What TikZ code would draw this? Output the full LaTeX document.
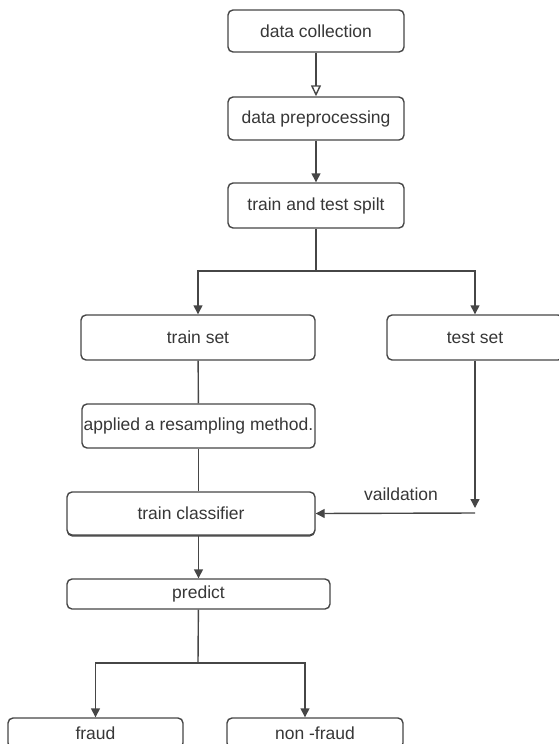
\documentclass[tikz,border=0pt]{standalone}
\usepackage{fontspec}
\setmainfont{Liberation Sans}
\usetikzlibrary{arrows.meta,shadows}
\definecolor{boxline}{RGB}{70,70,70}
\definecolor{boxtext}{RGB}{55,55,55}
\begin{document}
\begin{tikzpicture}[x=1pt,y=-1pt,
            stage/.style={draw=boxline,fill=white,line width=1.4pt,rounded corners=5pt,text=boxtext,
                font=\fontsize{17.5}{19}\selectfont,inner sep=0pt},
            flow/.style={draw=boxline,line width=1.4pt,-{Triangle[length=9pt,width=9pt]}},
            openflow/.style={draw=boxline,line width=1.4pt,-{Triangle[open,length=11pt,width=10pt,fill=white]}},
            link/.style={draw=boxline,line width=1.4pt}]
            \useasboundingbox (0,0) rectangle (558,744);
            % top of the flow
            \node[stage,minimum width=176pt,minimum height=42pt] (coll) at (316,31) {data collection};
            \node[stage,minimum width=176pt,minimum height=43pt] (prep) at (316,118.5) {data preprocessing};
            \node[stage,minimum width=176pt,minimum height=45pt] (split) at (316,205.5) {train and test spilt};
            % the two sets
            \node[stage,minimum width=234pt,minimum height=45pt] (trainset) at (198,337.5) {train set};
            \node[stage,minimum width=176pt,minimum height=45pt] (testset) at (475,337.5) {test set};
            \node[stage,minimum width=233pt,minimum height=44pt] (resample) at (198.5,426) {applied a resampling method.};
            \node[stage,minimum width=248pt,minimum height=43pt,
                drop shadow={shadow xshift=0pt,shadow yshift=-1.5pt,fill=boxline,opacity=1}] (classifier) at (191,513.5) {train classifier};
            \node[stage,minimum width=263pt,minimum height=30pt] (predict) at (198.5,594) {predict};
            % outcome
            \node[stage,minimum width=175pt,minimum height=30pt] (fraud) at (95.5,733) {fraud};
            \node[stage,minimum width=176pt,minimum height=30pt] (nonfraud) at (315,733) {non -fraud};
            \node[text=boxtext,font=\fontsize{17.5}{19}\selectfont] (vlabel) at (401,494) {vaildation};

            \coordinate (sj) at (316,271);
            \coordinate (v) at (475,513);
            \coordinate (pj) at (198,663);

            \draw[openflow] (coll) -- (prep);
            \draw[flow] (prep) -- (split);
            \draw[link] (split) -- (sj);
            \draw[flow] (sj) -| (trainset.north);
            \draw[flow] (sj) -| (testset.north);
            \draw[link] (trainset) -- (resample);
            \draw[link] (resample.south) -- (resample.south |- classifier.north);
            \draw[flow] (testset) -- ([yshift=5pt]v);
            \draw[flow] (v) -- (classifier.east);
            \draw[flow] (predict.north |- classifier.south) -- (predict.north);
            \draw[link] (predict) -- (pj);
            \draw[flow] (pj) -| (fraud.north);
            \draw[flow] (pj) -| ([xshift=-10pt]nonfraud.north);
        \end{tikzpicture}
\end{document}
